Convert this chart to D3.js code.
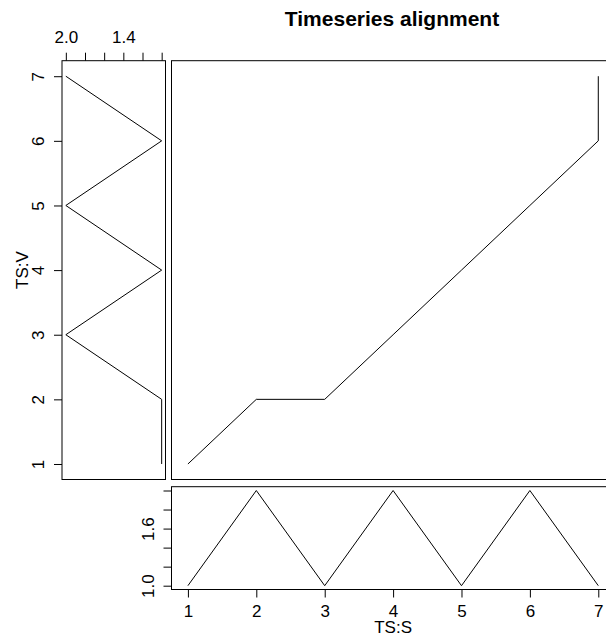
<!DOCTYPE html>
<html>
<head>
<meta charset="utf-8">
<script src="https://cdn.jsdelivr.net/npm/d3@7"></script>
<style>
  body { margin: 0; background: #fff; }
  svg { display: block; font-family: "Liberation Sans", Arial, sans-serif; }
  .domain { display: none; }
</style>
</head>
<body>
<svg id="chart"></svg>
<script>
// query series (bottom, TS:S) and reference series (left, TS:V)
const queryIndex = [1, 2, 3, 4, 5, 6, 7];
const queryValues = [1, 2, 1, 2, 1, 2, 1];
const refIndex = [1, 2, 3, 4, 5, 6, 7];
const refValues = [1, 1, 2, 1, 2, 1, 2];

// warping path
const pathQuery = [1, 2, 3, 4, 5, 6, 7, 7];
const pathRef = [1, 2, 2, 3, 4, 5, 6, 7];

// axis ticks and labelled ticks
const indexTicks = [1, 2, 3, 4, 5, 6, 7];
const valueTicks = [1.0, 1.2, 1.4, 1.6, 1.8, 2.0];
const leftTopLabels = [2.0, 1.4];
const bottomLeftLabels = [1.0, 1.6];

const W = 606, H = 638;
const svg = d3.select('#chart').attr('width', W).attr('height', H);

// R-style 4% padding
const pad = (lo, hi) => { const e = (hi - lo) * 0.04; return [lo - e, hi + e]; };

const leftBox = { x0: 62, x1: 165.5, y0: 60.7, y1: 479.5 };
const mainBox = { x0: 171.5, x1: 614.7, y0: 60.7, y1: 479.5 };
const botBox = { x0: 171.5, x1: 614.7, y0: 486.7, y1: 589.5 };

const xIdx = d3.scaleLinear().domain(pad(1, 7)).range([mainBox.x0, mainBox.x1]);
const yIdx = d3.scaleLinear().domain(pad(1, 7)).range([mainBox.y1, mainBox.y0]);
const xVal = d3.scaleLinear().domain(pad(1, 2).reverse()).range([leftBox.x0, leftBox.x1]);
const yVal = d3.scaleLinear().domain(pad(1, 2)).range([botBox.y1, botBox.y0]);

const fmt = labels => d => labels.some(l => Math.abs(l - d) < 1e-9) ? d3.format('.1f')(d) : '';

function box(b) {
  svg.append('rect')
    .attr('x', b.x0).attr('y', b.y0)
    .attr('width', b.x1 - b.x0).attr('height', b.y1 - b.y0)
    .attr('fill', 'none').attr('stroke', '#000').attr('stroke-width', 1);
}
[leftBox, mainBox, botBox].forEach(box);

const line = d3.line();

// main panel: alignment path
svg.append('path')
  .datum(pathQuery.map((q, i) => [xIdx(q), yIdx(pathRef[i])]))
  .attr('d', line).attr('fill', 'none').attr('stroke', '#000').attr('stroke-width', 1);

// left panel: reference series
svg.append('path')
  .datum(refIndex.map((r, i) => [xVal(refValues[i]), yIdx(r)]))
  .attr('d', line).attr('fill', 'none').attr('stroke', '#000').attr('stroke-width', 1);

// bottom panel: query series
svg.append('path')
  .datum(queryIndex.map((q, i) => [xIdx(q), yVal(queryValues[i])]))
  .attr('d', line).attr('fill', 'none').attr('stroke', '#000').attr('stroke-width', 1);

function styleAxis(g) {
  g.selectAll('.tick line').attr('stroke', '#000');
  g.selectAll('text').attr('font-size', 17).attr('fill', '#000');
}

// left panel: left axis (rotated labels)
const gLeft = svg.append('g')
  .attr('transform', `translate(${leftBox.x0},0)`)
  .call(d3.axisLeft(yIdx).tickValues(indexTicks).tickSize(8).tickFormat(d3.format('d')));
styleAxis(gLeft);
gLeft.selectAll('.tick text')
  .attr('x', null).attr('dy', null)
  .attr('text-anchor', 'middle')
  .attr('transform', 'translate(-18,0) rotate(-90)');

// left panel: top axis
const gTop = svg.append('g')
  .attr('transform', `translate(0,${leftBox.y0})`)
  .call(d3.axisTop(xVal).tickValues(valueTicks).tickSize(8).tickPadding(10).tickFormat(fmt(leftTopLabels)));
styleAxis(gTop);

// bottom panel: left axis (rotated labels)
const gBotLeft = svg.append('g')
  .attr('transform', `translate(${botBox.x0},0)`)
  .call(d3.axisLeft(yVal).tickValues(valueTicks).tickSize(8).tickFormat(fmt(bottomLeftLabels)));
styleAxis(gBotLeft);
gBotLeft.selectAll('.tick text')
  .attr('x', null).attr('dy', null)
  .attr('text-anchor', 'middle')
  .attr('transform', 'translate(-17.5,0) rotate(-90)');

// bottom panel: bottom axis
const gBot = svg.append('g')
  .attr('transform', `translate(0,${botBox.y1})`)
  .call(d3.axisBottom(xIdx).tickValues(indexTicks).tickSize(8).tickPadding(7.5).tickFormat(d3.format('d')));
styleAxis(gBot);

// axis titles
svg.append('text')
  .attr('x', (botBox.x0 + botBox.x1) / 2).attr('y', 632.5)
  .attr('text-anchor', 'middle').attr('font-size', 17)
  .text('TS:S');

svg.append('text')
  .attr('transform', `translate(28,${(leftBox.y0 + leftBox.y1) / 2}) rotate(-90)`)
  .attr('text-anchor', 'middle').attr('font-size', 17)
  .text('TS:V');

// title
svg.append('text')
  .attr('x', 392).attr('y', 26)
  .attr('text-anchor', 'middle').attr('font-size', 21).attr('font-weight', 'bold')
  .text('Timeseries alignment');
</script>
</body>
</html>
